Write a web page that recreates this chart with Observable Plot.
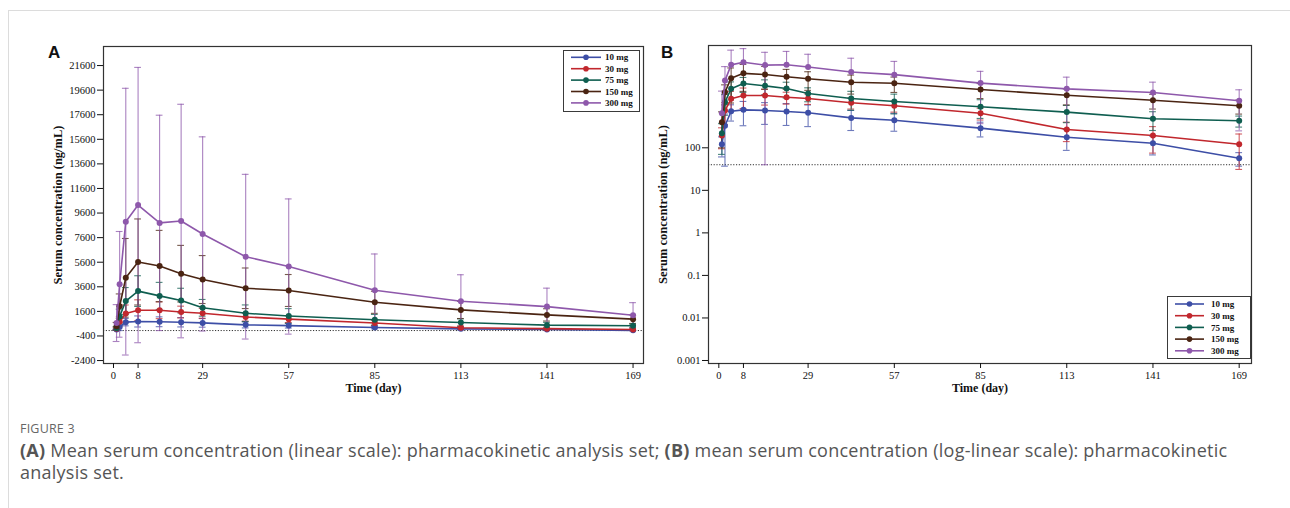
<!DOCTYPE html>
<html>
<head>
<meta charset="utf-8">
<script src="https://cdn.jsdelivr.net/npm/d3@7"></script>
<script src="https://cdn.jsdelivr.net/npm/@observablehq/plot@0.6"></script>
<style>
  html, body { margin: 0; padding: 0; background: #fff; }
  body { width: 1290px; height: 508px; position: relative; overflow: hidden; }
  .card { position: absolute; left: 8px; top: 10px; right: 0; bottom: 0; border-top: 1px solid #dcdcdc; border-left: 1px solid #dcdcdc; }
  .panel { position: absolute; top: 0; }
  .letter { position: absolute; font-family: "Liberation Sans", Arial, sans-serif; font-weight: bold; font-size: 17px; color: #111; }
  .legend { position: absolute; border: 1.5px solid #3a3a3a; background: #fff; box-sizing: border-box; }
  .fig { position: absolute; left: 20px; top: 420px; font-family: "Open Sans", sans-serif; font-size: 12.5px; color: #666; letter-spacing: 0.2px; }
  .cap { position: absolute; left: 20px; top: 439px; width: 1250px; font-family: "Open Sans", sans-serif; font-size: 18px; letter-spacing: 0.25px; line-height: 22px; color: #555; white-space: nowrap; }
  .cap b { font-weight: 700; color: #555; }
</style>
</head>
<body>
<div class="card"></div>
<div id="pA" class="panel" style="left:0px"></div>
<div id="pB" class="panel" style="left:650px"></div>
<div class="letter" style="left:48px; top:43px">A</div>
<div class="letter" style="left:661px; top:43px">B</div>
<div id="legA" class="legend" style="left:563px; top:50px; width:77px; height:62px"></div>
<div id="legB" class="legend" style="left:1167px; top:296px; width:84px; height:63px"></div>
<div class="fig">FIGURE 3</div>
<div class="cap"><b>(A)</b> Mean serum concentration (linear scale): pharmacokinetic analysis set; <b>(B)</b> mean serum concentration (log-linear scale): pharmacokinetic<br>analysis set.</div>
<script>
// ---- data ----
const doses = ["10 mg", "30 mg", "75 mg", "150 mg", "300 mg"];
const colors = ["#3d4ea6", "#c1272d", "#0f5e50", "#4a2412", "#8e58ab"];
const times = [1, 2, 4, 8, 15, 22, 29, 43, 57, 85, 113, 141, 169];
const mean10  = [121, 330, 725, 780, 755, 715, 665, 505, 445, 290, 177, 128, 57];
const mean30  = [195, 750, 1420, 1690, 1690, 1545, 1445, 1145, 970, 650, 270, 195, 121];
const mean75  = [220, 1180, 2440, 3250, 2860, 2480, 1890, 1445, 1225, 920, 690, 480, 432];
const mean150 = [400, 2020, 4330, 5620, 5290, 4670, 4190, 3480, 3300, 2340, 1720, 1315, 970];
const mean300 = [650, 3800, 8900, 10250, 8800, 8950, 7900, 6050, 5250, 3320, 2430, 1990, 1280];
const sd10  = [60, 293, 300, 450, 400, 380, 350, 250, 200, 110, 90, 60, 20];
const sd30  = [100, 400, 700, 850, 680, 480, 400, 330, 280, 200, 130, 120, 90];
const sd75  = [150, 600, 1100, 1250, 1100, 1000, 680, 680, 600, 430, 300, 225, 125];
const sd150 = [300, 1000, 3200, 3500, 2900, 2300, 1950, 1650, 1300, 900, 700, 500, 350];
const sd300 = [1500, 4300, 10850, 11200, 8760, 9500, 7900, 6700, 5500, 2950, 2150, 1500, 1030];
const xTicks = [0, 8, 29, 57, 85, 113, 141, 169];
const yTicksA = [-2400, -400, 1600, 3600, 5600, 7600, 9600, 11600, 13600, 15600, 17600, 19600, 21600];
const yTicksB = [0.001, 0.01, 0.1, 1, 10, 100];
const lloq = 40;
const yLabel = "Serum concentration (ng/mL)";
const xLabel = "Time (day)";

const means = [mean10, mean30, mean75, mean150, mean300];
const sds = [sd10, sd30, sd75, sd150, sd300];
const series = doses.map((dose, i) => times.map((t, j) => ({
  dose, t, mean: means[i][j], sd: sds[i][j],
  hi: means[i][j] + sds[i][j],
  lo: means[i][j] - sds[i][j]
})));

const capHalf = 1.1; // cap half-width in days

function seriesMarks(log) {
  const marks = [];
  series.forEach((rows, i) => {
    const c = colors[i];
    const r = rows.map(d => ({...d, lo: log ? (d.lo > 0 ? d.lo : d.mean) : d.lo}));
    marks.push(Plot.ruleX(r, {x: "t", y1: "lo", y2: "hi", stroke: c, strokeWidth: 1.1, strokeOpacity: 0.75}));
    marks.push(Plot.ruleY(r, {y: "hi", x1: d => d.t - capHalf, x2: d => d.t + capHalf, stroke: c, strokeWidth: 1.1, strokeOpacity: 0.75}));
    marks.push(Plot.ruleY(r.filter(d => d.lo !== d.mean), {y: "lo", x1: d => d.t - capHalf, x2: d => d.t + capHalf, stroke: c, strokeWidth: 1.1, strokeOpacity: 0.75}));
  });
  series.forEach((rows, i) => {
    const c = colors[i];
    marks.push(Plot.line(rows, {x: "t", y: "mean", stroke: c, strokeWidth: 1.6}));
    marks.push(Plot.dot(rows, {x: "t", y: "mean", fill: c, r: 3}));
  });
  return marks;
}

const common = {
  height: 400, marginTop: 46, marginBottom: 37,
  style: {fontFamily: "'Liberation Serif', 'Times New Roman', serif", fontSize: "10.5px", color: "#111", background: "transparent", overflow: "visible"}
};

const labelMarks = [
  Plot.text([yLabel], {frameAnchor: "left", dx: -46, rotate: -90, textAnchor: "middle", fontWeight: "bold", fontSize: 12.5}),
  Plot.text([xLabel], {frameAnchor: "bottom", dy: 28, textAnchor: "middle", fontWeight: "bold", fontSize: 12})
];

const plotA = Plot.plot({
  ...common,
  width: 650, marginLeft: 103, marginRight: 7,
  x: {domain: [-3.25, 172.4], label: null},
  y: {domain: [-2640, 23150], label: null},
  marks: [
    Plot.ruleY([lloq], {stroke: "#333", strokeWidth: 1, strokeDasharray: "1.2,1.6"}),
    ...seriesMarks(false),
    Plot.frame({stroke: "#333", strokeWidth: 1.2}),
    Plot.axisX({ticks: xTicks, tickSize: 5, tickPadding: 3, tickFormat: d => String(d), label: null}),
    Plot.axisY({ticks: yTicksA, tickSize: 6, tickPadding: 2, tickFormat: d => String(d), label: null}),
    ...labelMarks
  ]
});
document.getElementById("pA").appendChild(plotA);

const plotB = Plot.plot({
  ...common,
  marginTop: 45,
  width: 640, marginLeft: 58, marginRight: 39,
  x: {domain: [-3.35, 173.0], label: null},
  y: {type: "log", domain: [0.00085, 25400], label: null},
  marks: [
    Plot.ruleY([lloq], {stroke: "#333", strokeWidth: 1, strokeDasharray: "1.2,1.6"}),
    ...seriesMarks(true),
    Plot.frame({stroke: "#333", strokeWidth: 1.2}),
    Plot.axisX({ticks: xTicks, tickSize: 5, tickPadding: 3, tickFormat: d => String(d), label: null}),
    Plot.axisY({ticks: yTicksB, tickSize: 6, tickPadding: 2, tickFormat: d => String(d), label: null}),
    ...labelMarks
  ]
});
document.getElementById("pB").appendChild(plotB);

function legend(id, w, h, y0, dy, lx0, lx1, tx) {
  const svg = d3.select("#" + id).append("svg").attr("width", w).attr("height", h)
    .style("position", "absolute").style("left", "-1.5px").style("top", "-1.5px");
  doses.forEach((d, i) => {
    const y = y0 + i * dy;
    svg.append("line").attr("x1", lx0).attr("x2", lx1).attr("y1", y).attr("y2", y)
      .attr("stroke", colors[i]).attr("stroke-width", 1.6);
    svg.append("circle").attr("cx", (lx0 + lx1) / 2).attr("cy", y).attr("r", 2.8).attr("fill", colors[i]);
    svg.append("text").attr("x", tx).attr("y", y).attr("dy", "0.35em")
      .attr("font-family", "'Liberation Serif', serif").attr("font-weight", "bold").attr("font-size", 9)
      .attr("fill", "#111").text(d);
  });
}
legend("legA", 77, 62, 7.3, 11.4, 8, 38, 42);
legend("legB", 84, 63, 8, 11.7, 8, 37, 44);
</script>
</body>
</html>
